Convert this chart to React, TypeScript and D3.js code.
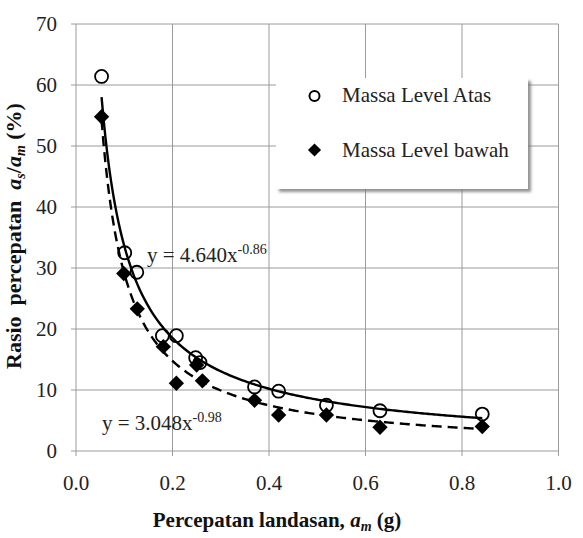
import { useEffect, useRef } from "react";
import * as d3 from "d3";

// Massa Level Atas (open circles)
const xAtas = [0.053, 0.101, 0.126, 0.179, 0.208, 0.248, 0.257, 0.37, 0.42, 0.519, 0.63, 0.842];
const yAtas = [61.4, 32.5, 29.3, 18.9, 18.9, 15.3, 14.5, 10.5, 9.8, 7.5, 6.6, 6.05];

// Massa Level bawah (filled diamonds)
const xBawah = [0.053, 0.099, 0.127, 0.181, 0.208, 0.25, 0.262, 0.37, 0.42, 0.519, 0.63, 0.842];
const yBawah = [54.8, 29.1, 23.3, 17.1, 11.1, 14.1, 11.5, 8.3, 5.9, 5.9, 3.9, 4.0];

// power trendlines y = a * x^b
const trendA = [4.64, 3.048];
const trendB = [-0.86, -0.98];
const trendText = ["y = 4.640x", "y = 3.048x"];
const trendSup = ["-0.86", "-0.98"];

const xTicks = [0, 0.2, 0.4, 0.6, 0.8, 1.0];
const yTicks = [0, 10, 20, 30, 40, 50, 60, 70];
const legendLabels = ["Massa Level Atas", "Massa Level bawah"];

const FONT = '"Liberation Serif", Tinos, "Noto Serif", "DejaVu Serif", FreeSerif, Times, serif';

const App = () => {
  const svgRef = useRef<SVGSVGElement | null>(null);

  useEffect(() => {
    const svg = d3.select(svgRef.current);
    svg.selectAll("*").remove();

    const width = 583;
    const height = 538;
    svg.attr("width", width).attr("height", height).style("font-family", FONT);

    const x = d3.scaleLinear().domain([0, 1]).range([76, 558.5]);
    const y = d3.scaleLinear().domain([0, 70]).range([451, 24]);

    const defs = svg.append("defs");
    const filt = defs.append("filter").attr("id", "shadow").attr("x", "-10%").attr("y", "-10%").attr("width", "130%").attr("height", "140%");
    filt.append("feDropShadow").attr("dx", 3).attr("dy", 3).attr("stdDeviation", 1.8).attr("flood-color", "#777").attr("flood-opacity", 0.8);

    const grid = "#9a9a9a";

    // gridlines
    svg.append("g").selectAll("line").data(yTicks).enter().append("line")
      .attr("x1", x(0) - 5).attr("x2", x(1))
      .attr("y1", (d) => y(d)).attr("y2", (d) => y(d))
      .attr("stroke", grid).attr("stroke-width", 1);
    svg.append("g").selectAll("line").data(xTicks).enter().append("line")
      .attr("x1", (d) => x(d)).attr("x2", (d) => x(d))
      .attr("y1", y(70)).attr("y2", y(0) + 5)
      .attr("stroke", grid).attr("stroke-width", 1);

    // tick labels
    svg.append("g").selectAll("text").data(xTicks).enter().append("text")
      .attr("x", (d) => x(d)).attr("y", 490).style("font-family", FONT)
      .attr("text-anchor", "middle").attr("font-size", 21).attr("fill", "#222")
      .text((d) => d3.format(".1f")(d));
    svg.append("g").selectAll("text").data(yTicks).enter().append("text")
      .attr("x", 57).attr("y", (d) => y(d) + 7).style("font-family", FONT)
      .attr("text-anchor", "end").attr("font-size", 21).attr("fill", "#222")
      .text((d) => d);

    // axis titles
    const xt = svg.append("text").attr("x", 277).attr("y", 527).attr("text-anchor", "middle")
      .style("font-family", FONT).attr("font-size", 21).attr("font-weight", "bold").attr("fill", "#111");
    xt.append("tspan").text("Percepatan landasan, ");
    xt.append("tspan").attr("font-style", "italic").text("a");
    xt.append("tspan").attr("dy", 4).attr("font-size", 14).attr("font-style", "italic").text("m");
    xt.append("tspan").attr("dy", -4).text(" (g)");

    const yt = svg.append("text").attr("transform", "translate(21,236) rotate(-90)").attr("text-anchor", "middle")
      .style("font-family", FONT).attr("font-size", 22).attr("font-weight", "bold").attr("fill", "#111")
      .style("white-space", "pre");
    yt.append("tspan").text("Rasio  percepatan  ");
    yt.append("tspan").attr("font-style", "italic").text("a");
    yt.append("tspan").attr("dy", 4).attr("font-size", 14).attr("font-style", "italic").text("s");
    yt.append("tspan").attr("dy", -4).text("/");
    yt.append("tspan").attr("font-style", "italic").text("a");
    yt.append("tspan").attr("dy", 4).attr("font-size", 14).attr("font-style", "italic").text("m");
    yt.append("tspan").attr("dy", -4).text(" (%)");

    // trendlines
    const xs = [xAtas, xBawah];
    const dashes = [null, "10,6"];
    trendA.forEach((a, i) => {
      const lo = d3.min(xs[i]) as number;
      const hi = d3.max(xs[i]) as number;
      const pts = d3.range(0, 201).map((k) => {
        const xv = lo + ((hi - lo) * k) / 200;
        return [xv, a * Math.pow(xv, trendB[i])] as [number, number];
      });
      const line = d3.line<[number, number]>().x((d) => x(d[0])).y((d) => y(d[1]));
      const p = svg.append("path").datum(pts).attr("fill", "none")
        .attr("stroke", "#000").attr("stroke-width", 2.4).attr("d", line);
      if (dashes[i]) p.attr("stroke-dasharray", dashes[i] as string);
    });

    // markers
    svg.append("g").selectAll("path").data(xBawah.map((v, i) => [v, yBawah[i]])).enter().append("path")
      .attr("d", d3.symbol(d3.symbolDiamond2, 150)())
      .attr("transform", (d) => `translate(${x(d[0])},${y(d[1])})`)
      .attr("fill", "#000");
    svg.append("g").selectAll("circle").data(xAtas.map((v, i) => [v, yAtas[i]])).enter().append("circle")
      .attr("cx", (d) => x(d[0])).attr("cy", (d) => y(d[1])).attr("r", 6.5)
      .attr("fill", "none").attr("stroke", "#000").attr("stroke-width", 1.8);

    // equation labels
    const eqPos = [[147, 262], [102, 430]];
    trendText.forEach((t, i) => {
      const tx = svg.append("text").attr("x", eqPos[i][0]).attr("y", eqPos[i][1])
        .style("font-family", FONT).attr("font-size", 21).attr("fill", "#222");
      tx.append("tspan").text(t);
      tx.append("tspan").attr("dy", -8).attr("font-size", 14).text(trendSup[i]);
    });

    // legend
    const lg = svg.append("g").attr("transform", "translate(276,78)");
    lg.append("rect").attr("width", 252).attr("height", 111).attr("fill", "#fff").attr("filter", "url(#shadow)");
    lg.append("circle").attr("cx", 38.5).attr("cy", 18).attr("r", 5)
      .attr("fill", "none").attr("stroke", "#000").attr("stroke-width", 2);
    lg.append("path").attr("d", d3.symbol(d3.symbolDiamond2, 110)())
      .attr("transform", "translate(38.5,72)").attr("fill", "#000");
    legendLabels.forEach((l, i) => {
      lg.append("text").attr("x", 66).attr("y", 24 + i * 55)
        .style("font-family", FONT).attr("font-size", 21).attr("fill", "#222").text(l);
    });
  }, []);

  return <svg ref={svgRef} style={{ position: "absolute", left: 0, top: 0 }} />;
};

export default App;
